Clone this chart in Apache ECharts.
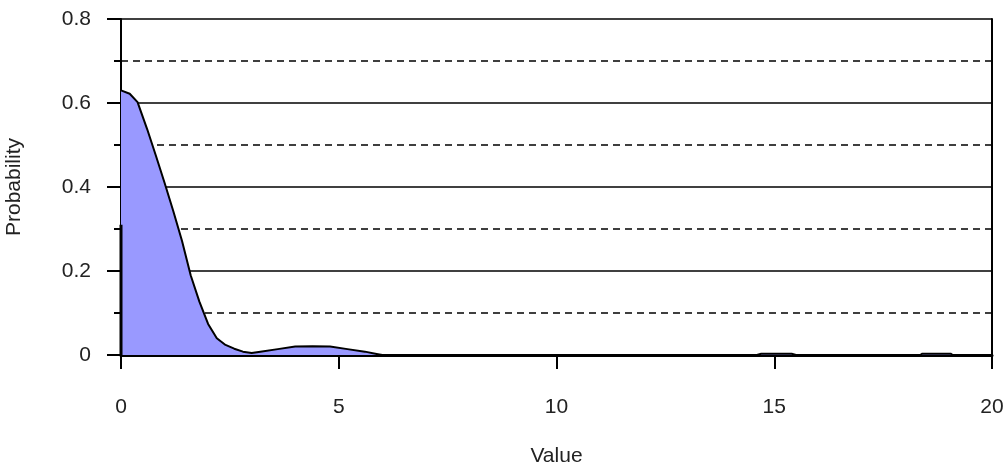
<!DOCTYPE html>
<html>
<head>
<meta charset="utf-8">
<script src="https://cdn.jsdelivr.net/npm/echarts@6/dist/echarts.min.js"></script>
<style>html,body{margin:0;padding:0;background:#fff}#c{width:1008px;height:469px}</style>
</head>
<body>
<div id="c"></div>
<script>
// Value positions (x) and probabilities (y) of the area curve
const xValues = [0, 0.2, 0.38, 0.6, 0.8, 1.0, 1.2, 1.4, 1.6, 1.8, 2.0, 2.2, 2.4, 2.6, 2.8, 3.0, 3.2, 3.6, 4.0, 4.4, 4.8, 5.2, 5.6, 5.9, 6.0, 14.6, 14.7, 15.4, 15.5, 18.35, 18.4, 19.05, 19.1, 20];
const probabilities = [0.63, 0.622, 0.602, 0.538, 0.475, 0.41, 0.343, 0.272, 0.19, 0.127, 0.074, 0.04, 0.024, 0.015, 0.008, 0.005, 0.008, 0.014, 0.02, 0.021, 0.02, 0.014, 0.008, 0.002, 0, 0, 0.003, 0.003, 0, 0, 0.003, 0.003, 0, 0];
// Thick vertical edge at Value = 0
const edgeX = [0, 0];
const edgeY = [0, 0.31];
const xTicks = [0, 5, 10, 15, 20];
const yTicks = [0, 0.2, 0.4, 0.6, 0.8];

const font = 'Liberation Sans, Arial, sans-serif';
const chart = echarts.init(document.getElementById('c'), null, {renderer: 'canvas'});
chart.setOption({
  animation: false,
  grid: {left: 121, right: 16, top: 19, bottom: 114, outerBoundsMode: 'none', containLabel: false},
  xAxis: {
    type: 'value', min: xTicks[0], max: xTicks[xTicks.length - 1], interval: 5,
    name: 'Value', nameLocation: 'middle', nameGap: 91,
    nameTextStyle: {fontFamily: font, fontSize: 21, color: '#222'},
    axisLine: {show: true, onZero: false, lineStyle: {color: '#000', width: 3}},
    axisTick: {show: true, inside: false, length: 14, lineStyle: {color: '#000', width: 2}},
    axisLabel: {fontFamily: font, fontSize: 21, color: '#222', margin: 42},
    splitLine: {show: false}
  },
  yAxis: [{
    type: 'value', min: yTicks[0], max: yTicks[yTicks.length - 1], interval: 0.2,
    name: 'Probability', nameLocation: 'middle', nameGap: 96, nameRotate: 90,
    nameTextStyle: {fontFamily: font, fontSize: 21, color: '#222'},
    axisLine: {show: true, lineStyle: {color: '#000', width: 2}},
    axisTick: {show: true, inside: false, length: 14, lineStyle: {color: '#000', width: 2}},
    minorTick: {show: true, splitNumber: 2, length: 7, lineStyle: {color: '#000', width: 2}},
    axisLabel: {fontFamily: font, fontSize: 21, color: '#222', margin: 30, formatter: v => v === 0 ? '0' : String(v)},
    splitLine: {show: true, lineStyle: {color: '#000', width: 1.5}},
    minorSplitLine: {show: true, lineStyle: {color: '#000', width: 1.5, type: [7, 5]}}
  }, {
    type: 'value', position: 'right', min: 0, max: 0.8,
    axisLine: {show: true, lineStyle: {color: '#000', width: 2}},
    axisTick: {show: false}, axisLabel: {show: false}, splitLine: {show: false}
  }, {
    type: 'value', position: 'left', min: 0, max: 0.8, interval: 0.2,
    axisLine: {show: false},
    axisTick: {show: true, inside: false, length: 14, lineStyle: {color: '#000', width: 2}},
    axisLabel: {show: false}, splitLine: {show: false}
  }],
  series: [{
    type: 'line',
    data: xValues.map((x, i) => [x, probabilities[i]]),
    showSymbol: false, symbol: 'none',
    lineStyle: {color: '#000', width: 2},
    areaStyle: {color: '#9999ff', opacity: 1},
    z: 3
  }, {
    type: 'line',
    data: edgeX.map((x, i) => [x, edgeY[i]]),
    showSymbol: false, symbol: 'none',
    lineStyle: {color: '#000', width: 3},
    z: 4
  }]
});
</script>
</body>
</html>
